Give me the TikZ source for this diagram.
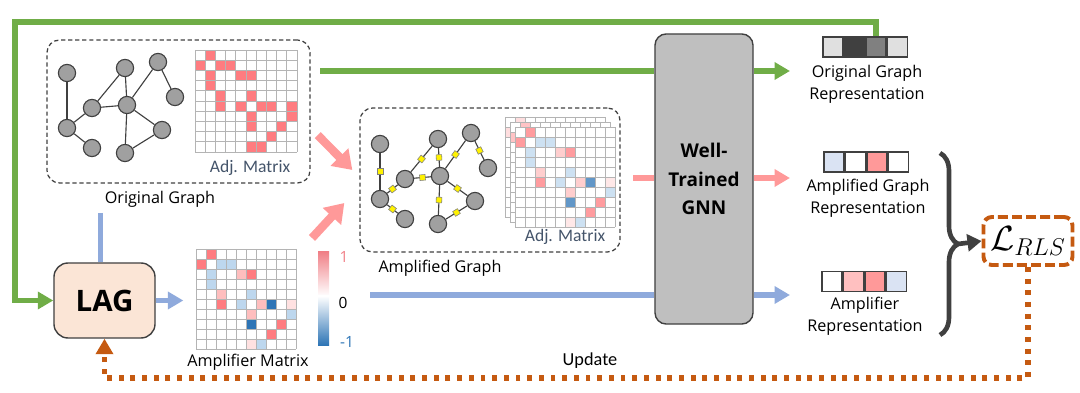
\documentclass[tikz,border=0pt]{standalone}
\usepackage{fontspec}
\setmainfont{Open Sans}
\newfontfamily\adjfont{Carlito}
\usepackage{xcolor}
\usepackage{tikz}
\usetikzlibrary{positioning, arrows.meta, decorations.pathreplacing}
\definecolor{linegreen}{RGB}{112,173,71}
\definecolor{linepink}{RGB}{255,153,153}
\definecolor{lineblue}{RGB}{143,170,220}
\definecolor{lineorange}{RGB}{197,90,17}
\definecolor{lagfill}{RGB}{251,229,214}
\definecolor{gnnfill}{RGB}{191,191,191}
\definecolor{nodegray}{RGB}{160,160,160}
\definecolor{edgegray}{RGB}{64,64,64}
\definecolor{cellred}{RGB}{255,124,128}
\definecolor{celllred}{RGB}{255,190,190}
\definecolor{cellvlred}{RGB}{255,225,225}
\definecolor{celllblue}{RGB}{189,215,238}
\definecolor{celldblue}{RGB}{46,117,182}
\definecolor{gridgray}{RGB}{180,180,180}
\definecolor{adjtext}{RGB}{68,84,106}
\definecolor{cbpink}{RGB}{240,128,135}
\definecolor{veclgray}{RGB}{224,224,224}
\definecolor{vecmgray}{RGB}{128,128,128}
\definecolor{veclblue}{RGB}{218,227,243}
\definecolor{veclpink}{RGB}{255,192,192}

\newcommand{\adjcells}{0/1,1/0,1/2,1/3,2/1,2/4,2/5,3/1,4/2,4/5,5/2,5/4,5/6,5/7,5/9,6/5,6/9,7/5,7/8,8/7,9/5,9/6}
\newcommand{\ampcells}{0/1/cellred,1/0/cellred,1/2/celllblue,1/3/celllblue,2/1/celllblue,2/4/celllred,2/5/cellred,3/1/celllblue,4/2/celllred,4/5/celllblue,5/2/cellred,5/4/celllblue,5/6/celllred,5/7/celldblue,5/9/cellvlred,6/5/celllred,6/9/celllblue,7/5/celldblue,7/8/cellred,8/7/cellred,9/5/cellvlred,9/6/celllblue}
\newcommand{\matgrid}[3]{%
  \foreach \k in {0,...,10} {
    \draw[gridgray, line width=0.6pt] (#1+\k*#3,#2) -- (#1+\k*#3,#2+10*#3);
    \draw[gridgray, line width=0.6pt] (#1,#2+\k*#3) -- (#1+10*#3,#2+\k*#3);
  }}

\begin{document}
\begin{tikzpicture}[x=0.025cm, y=-0.025cm,
  panel/.style={draw=edgegray, dash pattern=on 3pt off 2pt, rounded corners=9pt, line width=0.9pt},
  gnode/.style={circle, draw=edgegray, fill=nodegray, minimum size=0.43cm, inner sep=0pt, line width=0.8pt},
  gedge/.style={edgegray, line width=0.8pt},
  ysq/.style={rectangle, draw=gray, fill=yellow, minimum size=0.14cm, inner sep=0pt, line width=0.4pt, sloped},
  vcell/.style={rectangle, draw=edgegray, line width=1.1pt, minimum size=0.5cm, inner sep=0pt},
  captxt/.style={font=\fontsize{11.5}{15.5}\selectfont, align=center, inner sep=1pt},
  adjtxt/.style={font=\adjfont\fontsize{12.5}{14}\selectfont, text=adjtext, inner sep=1pt},
  cbtxt/.style={font=\fontsize{11}{13}\selectfont, inner sep=1pt},
  gline/.style={linegreen, line width=4.2pt},
  pline/.style={linepink, line width=4.2pt},
  bline/.style={lineblue, line width=4.2pt},
  garrow/.style={gline, -{Triangle[width=12pt,length=11pt]}},
  parrow/.style={pline, -{Triangle[width=12pt,length=11pt]}},
  barrow/.style={bline, -{Triangle[width=12pt,length=11pt]}},
  fatarrow/.style={linepink, line width=6pt, -{Triangle[width=17pt,length=13pt]}},
  updline/.style={lineorange, line width=3.8pt, dash pattern=on 3.5pt off 4.8pt, -{Triangle[width=12pt,length=11pt]}},
  brace/.style={edgegray, line width=3.3pt, decorate, decoration={brace, amplitude=0.45cm}}
]
\useasboundingbox (0,0) rectangle (1080,393);

\node[panel, minimum width=6.575cm, minimum height=3.575cm] (origbox) at (178.5,111.5) {};
\node[panel, minimum width=6.5cm, minimum height=3.6cm] (ampbox) at (490,180) {};
\node[captxt] (origlabel) at (160,199) {Original Graph};
\node[captxt] (amplabel) at (440,268) {Amplified Graph};
\node[captxt] (matlabel) at (248,362) {Amplifier Matrix};

\foreach \r/\c in \adjcells
  \fill[cellred] (195+\c*10.2,50+\r*10.2) rectangle ++(10.2,10.2);
\matgrid{195}{50}{10.2}
\node[adjtxt] (origadj) at (250,168) {Adj. Matrix};

\foreach \dx/\op in {0/0.25,5/0.45,10/0.75} {
  \fill[white] (505+\dx,117+\dx) rectangle ++(100,100);
  \foreach \r/\c/\cc in \ampcells
    \fill[\cc, opacity=\op] (505+\dx+\c*10,117+\dx+\r*10) rectangle ++(10,10);
  \matgrid{505+\dx}{117+\dx}{10}
}
\node[adjtxt] (ampadj) at (565,237) {Adj. Matrix};

\foreach \r/\c/\cc in \ampcells
  \fill[\cc] (196+\c*10,249+\r*10) rectangle ++(10,10);
\matgrid{196}{249}{10}
\coordinate (ampmat) at (196,249);

\shade[top color=cbpink, bottom color=white] (318,252) rectangle (329,296);
\shade[top color=white, bottom color=celldblue] (318,296) rectangle (329,345);
\node[cbtxt, text=cbpink] (cbmax) at (344,257) {1};
\node[cbtxt] (cbzero) at (343,303) {0};
\node[cbtxt, text=celldblue] (cbmin) at (347,342) {-1};

\foreach \n/\x/\y in {1/67/73, 2/125/68, 3/158/62, 4/175/97, 5/92/108, 6/127/105, 7/67/128, 8/92/148, 9/125/153, 10/162/130} {
  \node[gnode] (o\n) at (\x,\y) {};
  \node[gnode] (a\n) at (\x+313,\y+71) {};
}
\foreach \u/\v [count=\e] in {1/7,7/5,7/8,5/2,5/6,2/6,6/3,3/4,6/9,6/10,9/10} {
  \draw[gedge] (o\u) -- (o\v);
  \draw[gedge] (a\u) -- node[ysq] (sq\e) {} (a\v);
}

\node[rectangle, draw=edgegray, fill=lagfill, rounded corners=10pt, line width=1pt,
  minimum width=2.525cm, minimum height=1.875cm, font=\bfseries\fontsize{21}{24}\selectfont] (lag) at (104.5,300.5) {LAG};
\node[rectangle, draw=edgegray, fill=gnnfill, rounded corners=8pt, line width=1pt,
  minimum width=2.45cm, minimum height=7.25cm, align=center, font=\bfseries\fontsize{13.5}{20}\selectfont] (gnn) at (704,179) {Well-\\Trained\\GNN};

\node[vcell, fill=veclgray] (ov1) at (833,47) {};
\node[vcell, fill=edgegray, right=0pt of ov1] (ov2) {};
\node[vcell, fill=vecmgray, right=0pt of ov2] (ov3) {};
\node[vcell, fill=veclgray, right=0pt of ov3] (ov4) {};
\node[vcell, fill=veclblue] (av1) at (834,162) {};
\node[vcell, fill=white, right=0pt of av1] (av2) {};
\node[vcell, fill=linepink, right=0pt of av2] (av3) {};
\node[vcell, fill=white, right=0pt of av3] (av4) {};
\node[vcell, fill=white] (mv1) at (832,281.5) {};
\node[vcell, fill=veclpink, right=0pt of mv1] (mv2) {};
\node[vcell, fill=linepink, right=0pt of mv2] (mv3) {};
\node[vcell, fill=veclblue, right=0pt of mv3] (mv4) {};
\node[captxt] (origrep) at (867,84) {Original Graph\\Representation};
\node[captxt] (amprep) at (868,198) {Amplified Graph\\Representation};
\node[captxt] (amplrep) at (865,316) {Amplifier\\Representation};

\node[rectangle, draw=lineorange, line width=2.8pt, dash pattern=on 7pt off 3pt, rounded corners=6pt,
  minimum width=2.225cm, minimum height=1.2cm, font=\fontsize{24}{28}\selectfont] (loss) at (1028,241) {$\mathcal{L}_{RLS}$};
\node[font=\adjfont\fontsize{13}{15}\selectfont] (update) at (590,361) {Update};

\coordinate (gstart) at (320,71);
\coordinate (pstart) at (633,178);
\coordinate (bstart) at (370,295);
\coordinate (tipg) at (790,71);
\coordinate (tipp) at (790,178);
\coordinate (tipb) at (790,295);
\coordinate (loopcorner) at (15,22);
\coordinate (bracetop) at (940,153);
\coordinate (bracebot) at (940,335);
\coordinate (bracetip) at (958,244);

\draw[gline] (gstart) -- (gnn.west |- gstart);
\draw[garrow] (gnn.east |- gstart) -- (tipg);
\draw[pline] (pstart) -- (gnn.west |- pstart);
\draw[parrow] (gnn.east |- pstart) -- (tipp);
\draw[bline] (bstart) -- (gnn.west |- bstart);
\draw[barrow] (gnn.east |- bstart) -- (tipb);
\draw[garrow] (ov3.north) |- (loopcorner) |- (lag.west);
\draw[bline, shorten <=3pt] ([xshift=-0.1cm]lag.north |- origlabel.south) -- ([xshift=-0.1cm]lag.north);
\draw[barrow, shorten >=9pt] (lag.east) -- (lag.east -| ampmat);
\draw[fatarrow] ([xshift=0.175cm, yshift=-0.59cm]origbox.east) -- ([xshift=-0.175cm, yshift=0.25cm]ampbox.west);
\draw[fatarrow] ([xshift=-0.8cm, yshift=0.475cm]cbmax.center) -- ([xshift=-0.375cm, yshift=-0.575cm]ampbox.west);
\draw[brace] (bracetop) -- (bracebot);
\draw[edgegray, line width=3.3pt, -{Triangle[width=12pt,length=10pt]}] (bracetip) -- (loss.west);
\draw[updline] (loss.south) -- (loss.south |- 0,378) -| (lag.south);
\end{tikzpicture}
\end{document}
